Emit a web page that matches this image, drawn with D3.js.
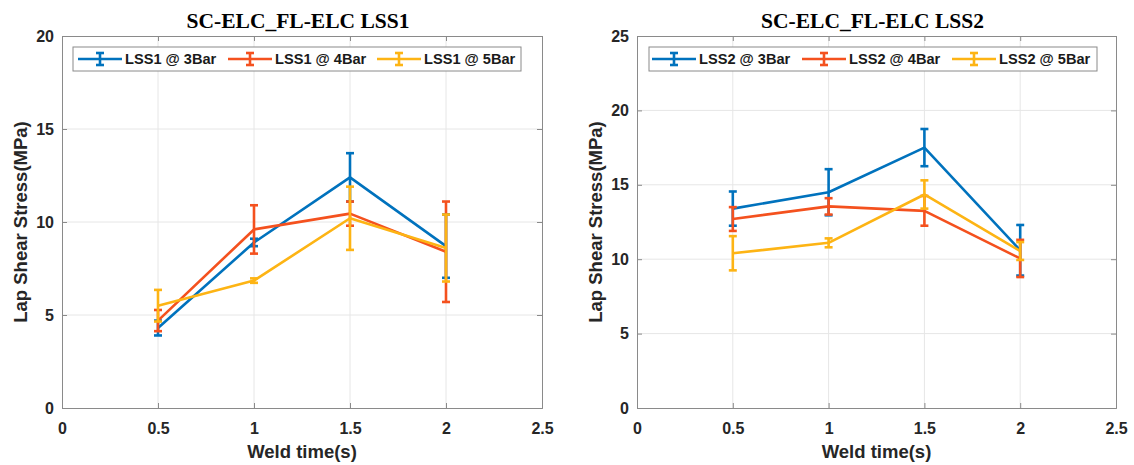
<!DOCTYPE html>
<html><head><meta charset="utf-8">
<script src="https://cdn.jsdelivr.net/npm/d3@7"></script>
<style>body{margin:0;background:#fff}svg{display:block}</style>
</head><body>
<svg id="c" width="1134" height="465"></svg>
<script>
const weldTimes = [0.5, 1, 1.5, 2];
const xTicks = [0, 0.5, 1, 1.5, 2, 2.5];
// Chart 1 (LSS1)
const lss1Names = ["LSS1 @ 3Bar", "LSS1 @ 4Bar", "LSS1 @ 5Bar"];
const lss1_3Bar = [4.3, 8.9, 12.4, 8.7];
const lss1_3BarErr = [0.4, 0.2, 1.3, 1.7];
const lss1_4Bar = [4.7, 9.6, 10.45, 8.4];
const lss1_4BarErr = [0.57, 1.3, 0.65, 2.7];
const lss1_5Bar = [5.5, 6.85, 10.2, 8.6];
const lss1_5BarErr = [0.85, 0.12, 1.7, 1.8];
const lss1YTicks = [0, 5, 10, 15, 20];
// Chart 2 (LSS2)
const lss2Names = ["LSS2 @ 3Bar", "LSS2 @ 4Bar", "LSS2 @ 5Bar"];
const lss2_3Bar = [13.4, 14.5, 17.5, 10.6];
const lss2_3BarErr = [1.15, 1.55, 1.25, 1.7];
const lss2_4Bar = [12.7, 13.55, 13.25, 10.05];
const lss2_4BarErr = [0.8, 0.55, 1.0, 1.25];
const lss2_5Bar = [10.4, 11.1, 14.35, 10.55];
const lss2_5BarErr = [1.15, 0.3, 0.95, 0.6];
const lss2YTicks = [0, 5, 10, 15, 20, 25];

const colors = ["#0072BD", "#F4511E", "#FDB414"];
const svg = d3.select("#c");
const SANS = "Liberation Sans, Arial, sans-serif";

function drawPanel(cfg) {
  const {left, right, top, bottom, yMax, yTicks, title, names, series, errs, legendX, legendW, legendItems} = cfg;
  const x = d3.scaleLinear().domain([0, 2.5]).range([left, right]);
  const y = d3.scaleLinear().domain([0, yMax]).range([bottom, top]);
  const g = svg.append("g");
  // grid
  g.append("g").selectAll("line").data(xTicks.slice(1, -1)).join("line")
    .attr("x1", d => x(d)).attr("x2", d => x(d)).attr("y1", top).attr("y2", bottom)
    .attr("stroke", "#e6e6e6").attr("stroke-width", 1);
  g.append("g").selectAll("line").data(yTicks.slice(1, -1)).join("line")
    .attr("y1", d => y(d)).attr("y2", d => y(d)).attr("x1", left).attr("x2", right)
    .attr("stroke", "#e6e6e6").attr("stroke-width", 1);
  // axes
  const xa = g.append("g").attr("transform", `translate(0,${bottom})`)
    .call(d3.axisBottom(x).tickValues(xTicks).tickSize(-5).tickPadding(14.5).tickFormat(d3.format("")));
  const ya = g.append("g").attr("transform", `translate(${left},0)`)
    .call(d3.axisLeft(y).tickValues(yTicks).tickSize(-5).tickPadding(8));
  const xt = g.append("g").attr("transform", `translate(0,${top})`)
    .call(d3.axisTop(x).tickValues(xTicks).tickSize(-5).tickFormat(""));
  const yr = g.append("g").attr("transform", `translate(${right},0)`)
    .call(d3.axisRight(y).tickValues(yTicks).tickSize(-5).tickFormat(""));
  [xa, ya, xt, yr].forEach(a => {
    a.selectAll("path,line").attr("stroke", "#8a8a8a").attr("stroke-width", 1);
    a.selectAll("text").attr("fill", "#262626").attr("font-family", SANS)
      .attr("font-size", 16).attr("font-weight", "bold");
  });
  // series
  const line = d3.line().x((d, i) => x(weldTimes[i])).y(d => y(d));
  series.forEach((s, k) => {
    const sg = g.append("g");
    sg.append("path").datum(s).attr("d", line).attr("fill", "none")
      .attr("stroke", colors[k]).attr("stroke-width", 2.6).attr("stroke-linejoin", "round");
    const eb = sg.selectAll("g.eb").data(s).join("g");
    eb.append("line").attr("x1", (d, i) => x(weldTimes[i])).attr("x2", (d, i) => x(weldTimes[i]))
      .attr("y1", (d, i) => y(d - errs[k][i])).attr("y2", (d, i) => y(d + errs[k][i]))
      .attr("stroke", colors[k]).attr("stroke-width", 2.6);
    [-1, 1].forEach(sgn => {
      eb.append("line").attr("x1", (d, i) => x(weldTimes[i]) - 4).attr("x2", (d, i) => x(weldTimes[i]) + 4)
        .attr("y1", (d, i) => y(d + sgn * errs[k][i])).attr("y2", (d, i) => y(d + sgn * errs[k][i]))
        .attr("stroke", colors[k]).attr("stroke-width", 2.6);
    });
  });
  // title
  g.append("text").attr("x", (left + right) / 2 - 4).attr("y", 28).attr("text-anchor", "middle")
    .attr("font-family", "Liberation Serif, Times New Roman, serif").attr("font-weight", "bold")
    .attr("font-size", 21.5).attr("fill", "#000").text(title);
  // axis labels
  g.append("text").attr("x", (left + right) / 2).attr("y", 458).attr("text-anchor", "middle")
    .attr("font-family", SANS).attr("font-weight", "bold")
    .attr("font-size", 18.5).attr("fill", "#262626").text("Weld time(s)");
  g.append("text").attr("transform", `translate(${left - 35},${(top + bottom) / 2}) rotate(-90)`)
    .attr("text-anchor", "middle")
    .attr("font-family", SANS).attr("font-weight", "bold")
    .attr("font-size", 18.5).attr("fill", "#262626").text("Lap Shear Stress(MPa)");
  // legend
  const lg = g.append("g");
  lg.append("rect").attr("x", legendX).attr("y", 47).attr("width", legendW).attr("height", 24)
    .attr("fill", "#fff").attr("stroke", "#8a8a8a").attr("stroke-width", 1);
  names.forEach((n, k) => {
    const lx = legendItems[k];
    const cx = lx + 22, cy = 59;
    lg.append("line").attr("x1", lx).attr("x2", lx + 44).attr("y1", cy).attr("y2", cy)
      .attr("stroke", colors[k]).attr("stroke-width", 2.6);
    lg.append("line").attr("x1", cx).attr("x2", cx).attr("y1", cy - 6).attr("y2", cy + 6)
      .attr("stroke", colors[k]).attr("stroke-width", 2.6);
    [-6, 6].forEach(o => lg.append("line").attr("x1", cx - 4).attr("x2", cx + 4)
      .attr("y1", cy + o).attr("y2", cy + o).attr("stroke", colors[k]).attr("stroke-width", 2.6));
    lg.append("text").attr("x", lx + 47).attr("y", cy + 5)
      .attr("font-family", SANS).attr("font-weight", "bold")
      .attr("font-size", 14.6).attr("fill", "#1a1a1a").text(n);
  });
}

drawPanel({left: 62, right: 542, top: 36, bottom: 408, yMax: 20, yTicks: lss1YTicks,
  title: "SC-ELC_FL-ELC LSS1", names: lss1Names,
  series: [lss1_3Bar, lss1_4Bar, lss1_5Bar], errs: [lss1_3BarErr, lss1_4BarErr, lss1_5BarErr],
  legendX: 73, legendW: 448, legendItems: [78, 228, 377]});
drawPanel({left: 637, right: 1116, top: 36, bottom: 408, yMax: 25, yTicks: lss2YTicks,
  title: "SC-ELC_FL-ELC LSS2", names: lss2Names,
  series: [lss2_3Bar, lss2_4Bar, lss2_5Bar], errs: [lss2_3BarErr, lss2_4BarErr, lss2_5BarErr],
  legendX: 649, legendW: 448, legendItems: [652, 802, 952]});
</script>
</body></html>
